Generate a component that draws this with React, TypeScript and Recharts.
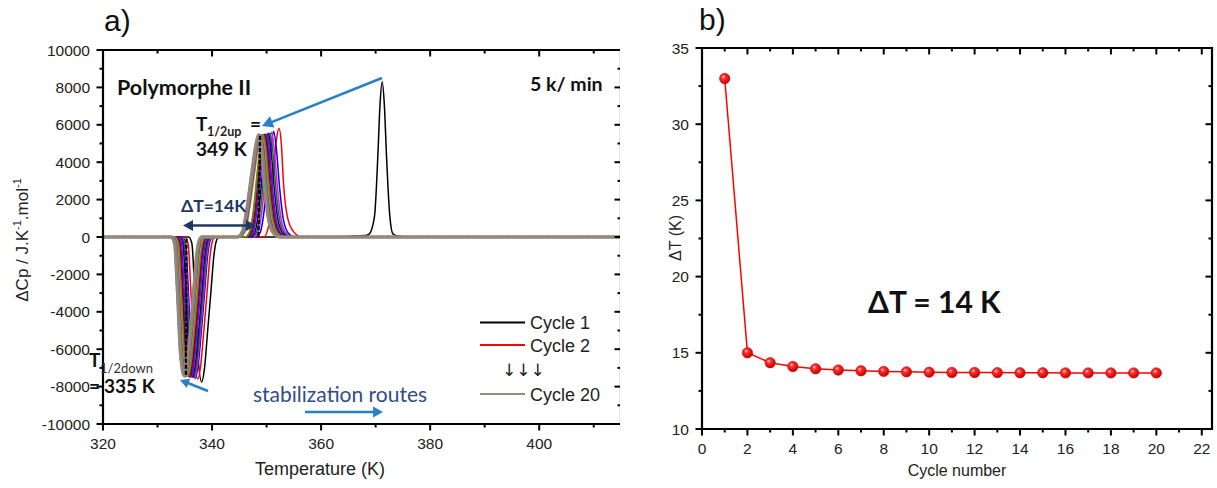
import React from 'react';
import { LineChart, Line, XAxis, YAxis, ReferenceLine } from 'recharts';

type P = [number, number];

// ---------- Panel a) : DSC curves (T in K, ΔCp in J.K-1.mol-1) ----------
const cycle1: P[] = [[320,0],[335.7,0],[336.3,-350],[336.8,-2800],[337.4,-6300],[338.1,-7750],[338.6,-7050],[339.2,-5000],[339.8,-2900],[340.3,-1100],[340.8,-200],[341.3,0],[364.0,0],[366.0,60],[368.2,80],[368.8,150],[369.8,1120],[370.4,4300],[370.8,7050],[371.2,8300],[371.6,7050],[372.0,4300],[372.6,1120],[373.2,150],[374.2,40],[376.0,0],[415,0]];
const cycle2: P[] = [[320,0],[335.0,0],[335.6,-350],[336.1,-2800],[336.7,-6300],[337.4,-7600],[337.9,-6900],[338.5,-5000],[339.1,-2900],[339.6,-1100],[340.1,-200],[340.6,0],[349.5,0],[350.3,500],[351.1,2900],[351.8,5200],[352.3,5800],[352.7,5000],[353.1,2900],[353.8,1100],[354.9,300],[356.5,0],[415,0]];
const cycle3: P[] = [[320,0],[334.55,0],[335.15,-350],[335.65,-2800],[336.25,-6300],[336.95,-7550],[337.45,-6850],[338.05,-5000],[338.65,-2900],[339.15,-1100],[339.65,-200],[340.15,0],[348.1,0],[348.9,300],[349.6,1500],[350.25,3400],[350.85,4900],[351.3,5650],[351.8,4700],[352.4,2600],[353.1,900],[354.0,200],[355.1,0],[415,0]];
const cycle4: P[] = [[320,0],[334.4,0],[335.0,-350],[335.5,-2800],[336.1,-6300],[336.8,-7550],[337.3,-6850],[337.9,-5000],[338.5,-2900],[339.0,-1100],[339.5,-200],[340.0,0],[347.7,0],[348.5,300],[349.2,1500],[349.85,3400],[350.45,4900],[350.9,5600],[351.4,4700],[352.0,2600],[352.7,900],[353.6,200],[354.7,0],[415,0]];
const cycle5: P[] = [[320,0],[334.25,0],[334.85,-350],[335.35,-2800],[335.95,-6300],[336.65,-7500],[337.15,-6800],[337.75,-5000],[338.35,-2900],[338.85,-1100],[339.35,-200],[339.85,0],[347.4,0],[348.2,300],[348.9,1500],[349.55,3400],[350.15,4900],[350.6,5550],[351.1,4700],[351.7,2600],[352.4,900],[353.3,200],[354.4,0],[415,0]];
const cycle6: P[] = [[320,0],[334.05,0],[334.65,-350],[335.15,-2800],[335.75,-6300],[336.45,-7500],[336.95,-6800],[337.55,-5000],[338.15,-2900],[338.65,-1100],[339.15,-200],[339.65,0],[347.1,0],[347.9,300],[348.6,1500],[349.25,3400],[349.85,4900],[350.3,5550],[350.8,4700],[351.4,2600],[352.1,900],[353.0,200],[354.1,0],[415,0]];
const cycle7: P[] = [[320,0],[333.8,0],[334.4,-350],[334.9,-2800],[335.5,-6300],[336.2,-7500],[336.7,-6800],[337.3,-5000],[337.9,-2900],[338.4,-1100],[338.9,-200],[339.4,0],[346.8,0],[347.6,300],[348.3,1500],[348.95,3400],[349.55,4900],[350.0,5500],[350.5,4700],[351.1,2600],[351.8,900],[352.7,200],[353.8,0],[415,0]];
const cycle8: P[] = [[320,0],[333.6,0],[334.2,-350],[334.7,-2800],[335.3,-6300],[336.0,-7480],[336.5,-6780],[337.1,-5000],[337.7,-2900],[338.2,-1100],[338.7,-200],[339.2,0],[346.6,0],[347.4,300],[348.1,1500],[348.75,3400],[349.35,4900],[349.8,5500],[350.3,4700],[350.9,2600],[351.6,900],[352.5,200],[353.6,0],[415,0]];
const cycle9: P[] = [[320,0],[333.45,0],[334.05,-350],[334.55,-2800],[335.15,-6300],[335.85,-7480],[336.35,-6780],[336.95,-5000],[337.55,-2900],[338.05,-1100],[338.55,-200],[339.05,0],[346.4,0],[347.2,300],[347.9,1500],[348.55,3400],[349.15,4900],[349.6,5500],[350.1,4700],[350.7,2600],[351.4,900],[352.3,200],[353.4,0],[415,0]];
const cycle10: P[] = [[320,0],[333.25,0],[333.85,-350],[334.35,-2800],[334.95,-6300],[335.65,-7460],[336.15,-6760],[336.75,-5000],[337.35,-2900],[337.85,-1100],[338.35,-200],[338.85,0],[346.2,0],[347.0,300],[347.7,1500],[348.35,3400],[348.95,4900],[349.4,5480],[349.9,4700],[350.5,2600],[351.2,900],[352.1,200],[353.2,0],[415,0]];
const cycle11: P[] = [[320,0],[333.2,0],[333.8,-350],[334.3,-2800],[334.9,-6300],[335.6,-7460],[336.1,-6760],[336.7,-5000],[337.3,-2900],[337.8,-1100],[338.3,-200],[338.8,0],[346.1,0],[346.9,300],[347.6,1500],[348.25,3400],[348.85,4900],[349.3,5480],[349.8,4700],[350.4,2600],[351.1,900],[352.0,200],[353.1,0],[415,0]];
const cycle12: P[] = [[320,0],[333.0,0],[333.6,-350],[334.1,-2800],[334.7,-6300],[335.4,-7450],[335.9,-6750],[336.5,-5000],[337.1,-2900],[337.6,-1100],[338.1,-200],[338.6,0],[345.1,0],[346.1,300],[346.9,1500],[347.8,3400],[348.55,4900],[349.1,5480],[349.6,4700],[350.2,2600],[350.9,900],[351.8,200],[352.9,0],[415,0]];
const cycle13: P[] = [[320,0],[332.9,0],[333.5,-350],[334.0,-2800],[334.6,-6300],[335.3,-7450],[335.8,-6750],[336.4,-5000],[337.0,-2900],[337.5,-1100],[338.0,-200],[338.5,0],[345.0,0],[346.0,300],[346.8,1500],[347.7,3400],[348.45,4900],[349.0,5460],[349.5,4700],[350.1,2600],[350.8,900],[351.7,200],[352.8,0],[415,0]];
const cycle14: P[] = [[320,0],[332.8,0],[333.4,-350],[333.9,-2800],[334.5,-6300],[335.2,-7440],[335.7,-6740],[336.3,-5000],[336.9,-2900],[337.4,-1100],[337.9,-200],[338.4,0],[344.9,0],[345.9,300],[346.7,1500],[347.6,3400],[348.35,4900],[348.9,5460],[349.4,4700],[350.0,2600],[350.7,900],[351.6,200],[352.7,0],[415,0]];
const cycle15: P[] = [[320,0],[332.7,0],[333.3,-350],[333.8,-2800],[334.4,-6300],[335.1,-7440],[335.6,-6740],[336.2,-5000],[336.8,-2900],[337.3,-1100],[337.8,-200],[338.3,0],[344.8,0],[345.8,300],[346.6,1500],[347.5,3400],[348.25,4900],[348.8,5460],[349.3,4700],[349.9,2600],[350.6,900],[351.5,200],[352.6,0],[415,0]];
const cycle16: P[] = [[320,0],[332.65,0],[333.25,-350],[333.75,-2800],[334.35,-6300],[335.05,-7430],[335.55,-6730],[336.15,-5000],[336.75,-2900],[337.25,-1100],[337.75,-200],[338.25,0],[344.7,0],[345.7,300],[346.5,1500],[347.4,3400],[348.15,4900],[348.7,5450],[349.2,4700],[349.8,2600],[350.5,900],[351.4,200],[352.5,0],[415,0]];
const cycle17: P[] = [[320,0],[332.6,0],[333.2,-350],[333.7,-2800],[334.3,-6300],[335.0,-7430],[335.5,-6730],[336.1,-5000],[336.7,-2900],[337.2,-1100],[337.7,-200],[338.2,0],[344.65,0],[345.65,300],[346.45,1500],[347.35,3400],[348.1,4900],[348.65,5450],[349.15,4700],[349.75,2600],[350.45,900],[351.35,200],[352.45,0],[415,0]];
const cycle18: P[] = [[320,0],[332.55,0],[333.15,-350],[333.65,-2800],[334.25,-6300],[334.95,-7430],[335.45,-6730],[336.05,-5000],[336.65,-2900],[337.15,-1100],[337.65,-200],[338.15,0],[344.6,0],[345.6,300],[346.4,1500],[347.3,3400],[348.05,4900],[348.6,5450],[349.1,4700],[349.7,2600],[350.4,900],[351.3,200],[352.4,0],[415,0]];
const cycle19: P[] = [[320,0],[332.5,0],[333.1,-350],[333.6,-2800],[334.2,-6300],[334.9,-7420],[335.4,-6720],[336.0,-5000],[336.6,-2900],[337.1,-1100],[337.6,-200],[338.1,0],[344.55,0],[345.55,300],[346.35,1500],[347.25,3400],[348.0,4900],[348.55,5440],[349.05,4700],[349.65,2600],[350.35,900],[351.25,200],[352.35,0],[415,0]];
const cycle20: P[] = [[320,0],[332.45,0],[333.05,-350],[333.55,-2800],[334.15,-6300],[334.85,-7420],[335.35,-6720],[335.95,-5000],[336.55,-2900],[337.05,-1100],[337.55,-200],[338.05,0],[344.5,0],[345.5,300],[346.3,1500],[347.2,3400],[347.95,4900],[348.5,5440],[349.0,4700],[349.6,2600],[350.3,900],[351.2,200],[352.3,0],[415,0]];

const cycleCurves: P[][] = [cycle1, cycle2, cycle3, cycle4, cycle5, cycle6, cycle7, cycle8, cycle9, cycle10, cycle11, cycle12, cycle13, cycle14, cycle15, cycle16, cycle17, cycle18, cycle19, cycle20];
const cycleColors = ['#000000', '#ff0000', '#0000ff', '#ff00ff', '#008000', '#000080', '#8000ff', '#800080', '#800000', '#008080', '#808000', '#ff8000', '#00c0c0', '#c000c0', '#6b8e23', '#4169e1', '#20b2aa', '#a87c66', '#2fa58a', '#928a85'];
const cycleWidths = [1.5, 1.5, 1.5, 1.5, 1.5, 1.5, 1.5, 1.5, 1.5, 1.5, 1.5, 1.5, 1.5, 2, 2, 2, 2, 3.5, 2.5, 1.5];
const cycleDash = ['', '', '', '', '', '', '', '', '', '', '', '', '', '', '', '', '', '', '2 3', ''];

const halfUpSegment = [{ x: 348.8, y: 5400 }, { x: 348.5, y: 0 }];
const halfDownSegment = [{ x: 335.3, y: -100 }, { x: 335.2, y: -7400 }];

const tempDomain: [number, number] = [320, 415];
const cpDomain: [number, number] = [-10000, 10000];
const tempTicks = [320, 330, 340, 350, 360, 370, 380, 390, 400, 410];
const tempMajor = [320, 340, 360, 380, 400];
const cpTicks = [-10000, -9000, -8000, -7000, -6000, -5000, -4000, -3000, -2000, -1000, 0, 1000, 2000, 3000, 4000, 5000, 6000, 7000, 8000, 9000, 10000];
const cpMajor = [-10000, -8000, -6000, -4000, -2000, 0, 2000, 4000, 6000, 8000, 10000];

// ---------- Panel b) : ΔT vs cycle ----------
const cycleNumbers = [1, 2, 3, 4, 5, 6, 7, 8, 9, 10, 11, 12, 13, 14, 15, 16, 17, 18, 19, 20];
const deltaT = [33.0, 15.0, 14.35, 14.1, 13.95, 13.87, 13.82, 13.78, 13.75, 13.73, 13.71, 13.71, 13.7, 13.69, 13.69, 13.68, 13.68, 13.68, 13.68, 13.68];
const cycDomain: [number, number] = [0, 22.45];
const dtDomain: [number, number] = [10, 35];
const cycTicks = [0, 1, 2, 3, 4, 5, 6, 7, 8, 9, 10, 11, 12, 13, 14, 15, 16, 17, 18, 19, 20, 21, 22];
const cycMajor = [0, 2, 4, 6, 8, 10, 12, 14, 16, 18, 20, 22];
const dtTicks = [10, 12.5, 15, 17.5, 20, 22.5, 25, 27.5, 30, 32.5, 35];
const dtMajor = [10, 15, 20, 25, 30, 35];

const panelB = cycleNumbers.map((c, i) => ({ c, dt: deltaT[i] }));

const AX = 'Liberation Sans, Arial, sans-serif';
const CAL = 'Lato, Carlito, sans-serif';

// plot-area geometry (px) : set by chart margins + axis sizes below
const A_BOX = { left: 103, top: 50, w: 518, h: 374 };
const B_BOX = { left: 702, top: 48, w: 510, h: 381 };

function labelTick(side: string, majors: number[]) {
  return (props: any) => {
    const x = Number(props.x);
    const y = Number(props.y);
    const v = props.payload.value;
    if (majors.indexOf(v) < 0) return <g />;
    if (side === 'bottom') return <text x={x} y={y + 25} textAnchor="middle" fontSize={15.5} fontFamily={AX} fill="#222">{v}</text>;
    return <text x={x - 13} y={y + 5.5} textAnchor="end" fontSize={15.5} fontFamily={AX} fill="#222">{v}</text>;
  };
}

// axis frame + tick marks (outward on left/bottom, inward on top/right)
const Frame = ({ box, xd, yd, xt, xm, yt, ym }: any) => {
  const sx = (v: number) => box.left + ((v - xd[0]) / (xd[1] - xd[0])) * box.w;
  const sy = (v: number) => box.top + box.h - ((v - yd[0]) / (yd[1] - yd[0])) * box.h;
  const bot = box.top + box.h;
  const right = box.left + box.w;
  const segs: any[] = [];
  segs.push(<line key="f1" x1={box.left - 1} y1={box.top} x2={right + 1} y2={box.top} stroke="#000000" strokeWidth={2.2} />);
  segs.push(<line key="f2" x1={box.left - 1} y1={bot} x2={right + 1} y2={bot} stroke="#000000" strokeWidth={2.2} />);
  segs.push(<line key="f3" x1={box.left} y1={box.top - 1} x2={box.left} y2={bot + 1} stroke="#000000" strokeWidth={2.2} />);
  segs.push(<line key="f4" x1={right} y1={box.top - 1} x2={right} y2={bot + 1} stroke="#000000" strokeWidth={2.2} />);
  xt.forEach((v: number) => {
    const L = xm.indexOf(v) >= 0 ? 6.5 : 3.5;
    const x = sx(v);
    segs.push(<line key={'xb' + v} x1={x} y1={bot} x2={x} y2={bot + L} stroke="#000000" strokeWidth={2} />);
    segs.push(<line key={'xt' + v} x1={x} y1={box.top} x2={x} y2={box.top + L} stroke="#000000" strokeWidth={2} />);
  });
  yt.forEach((v: number) => {
    const L = ym.indexOf(v) >= 0 ? 6.5 : 3.5;
    const y = sy(v);
    segs.push(<line key={'yl' + v} x1={box.left} y1={y} x2={box.left - L} y2={y} stroke="#000000" strokeWidth={2} />);
    segs.push(<line key={'yr' + v} x1={right} y1={y} x2={right - L} y2={y} stroke="#000000" strokeWidth={2} />);
  });
  return <>{segs}</>;
};

const Ball = (props: any) => {
  const { cx, cy, index } = props;
  if (cx == null || cy == null) return null;
  return <circle key={'b' + index} cx={cx} cy={cy} r={5.2} fill="url(#ballGrad)" stroke="#d00000" strokeWidth={0.6} />;
};

const Arrow = ({ x1, y1, x2, y2, color, w, head, both }: any) => {
  const ang = Math.atan2(y2 - y1, x2 - x1);
  const h = head || 9;
  const hw = h * 0.55;
  const tri = (px: number, py: number, a: number) => {
    const bx = px - h * Math.cos(a);
    const by = py - h * Math.sin(a);
    const nx = -Math.sin(a) * hw;
    const ny = Math.cos(a) * hw;
    return `${px},${py} ${bx + nx},${by + ny} ${bx - nx},${by - ny}`;
  };
  const sx = both ? x1 + (h - 2) * Math.cos(ang) : x1;
  const sy = both ? y1 + (h - 2) * Math.sin(ang) : y1;
  const ex = x2 - (h - 2) * Math.cos(ang);
  const ey = y2 - (h - 2) * Math.sin(ang);
  return (
    <g>
      <line x1={sx} y1={sy} x2={ex} y2={ey} stroke={color} strokeWidth={w} />
      <polygon points={tri(x2, y2, ang)} fill={color} />
      {both ? <polygon points={tri(x1, y1, ang + Math.PI)} fill={color} /> : null}
    </g>
  );
};

export default function App() {
  return (
    <div style={{ position: 'absolute', left: 0, top: 0, width: 1217, height: 488, background: '#fff', overflow: 'hidden' }}>
      <svg width={0} height={0} style={{ position: 'absolute' }}>
        <defs>
          <radialGradient id="ballGrad" cx="38%" cy="35%" r="65%">
            <stop offset="0%" stopColor="#ffd0d0" />
            <stop offset="30%" stopColor="#ff3030" />
            <stop offset="100%" stopColor="#c00000" />
          </radialGradient>
        </defs>
      </svg>

      {/* Panel a */}
      <div style={{ position: 'absolute', left: 0, top: 0, width: 620, height: 488, overflow: 'hidden' }}>
        <LineChart width={640} height={488} margin={{ top: 50, right: 19, bottom: 34, left: 43 }}>
          <XAxis xAxisId="b" type="number" dataKey="t" domain={tempDomain} allowDataOverflow ticks={tempTicks} interval={0}
            tickSize={0} tickMargin={0} height={30} axisLine={false} tickLine={false} tick={labelTick('bottom', tempMajor)} />
          <YAxis yAxisId="l" type="number" domain={cpDomain} allowDataOverflow ticks={cpTicks} interval={0}
            tickSize={0} tickMargin={0} width={60} axisLine={false} tickLine={false} tick={labelTick('left', cpMajor)} />
          {cycleCurves.map((curve, i) => (
            <Line key={'c' + i} xAxisId="b" yAxisId="l" data={curve.map(([t, v]) => ({ t, v }))} dataKey="v" type="monotoneX"
              stroke={cycleColors[i]} strokeWidth={cycleWidths[i]} strokeDasharray={cycleDash[i] || undefined}
              dot={false} activeDot={false} isAnimationActive={false} name={'Cycle ' + (i + 1)} />
          ))}
          <ReferenceLine xAxisId="b" yAxisId="l" segment={halfUpSegment} stroke="#000" strokeWidth={2.2} strokeDasharray="4 2" ifOverflow="visible" />
          <ReferenceLine xAxisId="b" yAxisId="l" segment={halfDownSegment} stroke="#000" strokeWidth={2.2} strokeDasharray="4 2" ifOverflow="visible" />
        </LineChart>
      </div>

      {/* Panel b */}
      <div style={{ position: 'absolute', left: 640, top: 0, width: 577, height: 488 }}>
        <LineChart width={577} height={488} data={panelB} margin={{ top: 48, right: 5, bottom: 29, left: 12 }}>
          <XAxis xAxisId="b" type="number" dataKey="c" domain={cycDomain} allowDataOverflow ticks={cycTicks} interval={0}
            tickSize={0} tickMargin={0} height={30} axisLine={false} tickLine={false} tick={labelTick('bottom', cycMajor)} />
          <YAxis yAxisId="l" type="number" domain={dtDomain} allowDataOverflow ticks={dtTicks} interval={0}
            tickSize={0} tickMargin={0} width={50} axisLine={false} tickLine={false} tick={labelTick('left', dtMajor)} />
          <Line xAxisId="b" yAxisId="l" dataKey="dt" type="linear" stroke="#ff0000" strokeWidth={1.5}
            dot={<Ball />} activeDot={false} isAnimationActive={false} />
        </LineChart>
      </div>

      {/* Frames, annotations */}
      <svg width={1217} height={488} style={{ position: 'absolute', left: 0, top: 0, pointerEvents: 'none' }}>
        <svg x={0} y={0} width={620} height={488} overflow="hidden">
          <Frame box={A_BOX} xd={tempDomain} yd={cpDomain} xt={tempTicks} xm={tempMajor} yt={cpTicks} ym={cpMajor} />
        </svg>
        <Frame box={B_BOX} xd={cycDomain} yd={dtDomain} xt={cycTicks} xm={cycMajor} yt={dtTicks} ym={dtMajor} />

        <text x={104} y={31} fontSize={30} fontFamily={AX} fill="#111">a)</text>
        <text x={699} y={30} fontSize={30} fontFamily={AX} fill="#111">b)</text>

        <text x={320} y={475} textAnchor="middle" fontSize={18} fontFamily={AX} fill="#222">Temperature (K)</text>
        <text transform="translate(28,240) rotate(-90)" textAnchor="middle" fontSize={17} fontFamily={AX} fill="#222">
          ΔCp / J.K<tspan fontSize={11} dy={-7}>-1</tspan><tspan dy={7}>.mol</tspan><tspan fontSize={11} dy={-7}>-1</tspan>
        </text>

        <text x={957} y={476} textAnchor="middle" fontSize={16} fontFamily={AX} fill="#222">Cycle number</text>
        <text transform="translate(681,238) rotate(-90)" textAnchor="middle" fontSize={16} fontFamily={AX} fill="#222">ΔT (K)</text>

        <text x={117} y={95} fontSize={21.5} fontWeight="bold" fontFamily={CAL} fill="#111">Polymorphe II</text>
        <text x={530} y={91} fontSize={19.5} fontWeight="bold" fontFamily={CAL} fill="#111">5 k/ min</text>

        <text x={196} y={131} fontSize={19} fontWeight="bold" fontFamily={CAL} fill="#111">T</text>
        <text x={207} y={136} fontSize={12.5} fontWeight="bold" fontFamily={CAL} fill="#222">1/2up</text>
        <text x={250} y={131} fontSize={19} fontWeight="bold" fontFamily={CAL} fill="#111">=</text>
        <text x={196} y={156} fontSize={19} fontWeight="bold" fontFamily={CAL} fill="#111">349 K</text>

        <text x={181} y={212} fontSize={17.5} fontWeight="bold" fontFamily={CAL} fill="#1f3864">ΔT=14K</text>
        <Arrow x1={183} y1={225.5} x2={256} y2={225.5} color="#1f3864" w={2.6} head={10} both />

        <Arrow x1={382} y1={78} x2={262} y2={126} color="#2a80c8" w={2.6} head={11} />

        <text x={89} y={367} fontSize={19} fontWeight="bold" fontFamily={CAL} fill="#111">T</text>
        <text x={100} y={373} fontSize={13} fontFamily={CAL} fill="#333">1/2down</text>
        <text x={89} y={393} fontSize={19} fontWeight="bold" fontFamily={CAL} fill="#111">=</text>
        <text x={104} y={393} fontSize={19} fontWeight="bold" fontFamily={CAL} fill="#111">335 K</text>
        <Arrow x1={208} y1={391} x2={180} y2={380} color="#2a80c8" w={2.6} head={9} />

        <text x={253} y={402} fontSize={21} fontFamily={CAL} fill="#2f4d8a">stabilization routes</text>
        <Arrow x1={305} y1={412} x2={383} y2={412} color="#2a80c8" w={2.6} head={10} />

        <line x1={480} y1={322.5} x2={525} y2={322.5} stroke={cycleColors[0]} strokeWidth={2} />
        <text x={530} y={329} fontSize={18} fontFamily={AX} fill="#222">Cycle 1</text>
        <line x1={480} y1={345} x2={525} y2={345} stroke={cycleColors[1]} strokeWidth={2} />
        <text x={530} y={352} fontSize={18} fontFamily={AX} fill="#222">Cycle 2</text>
        <text x={502} y={376} fontSize={17} fontFamily="DejaVu Sans, sans-serif" fill="#222">↓↓↓</text>
        <line x1={480} y1={394} x2={525} y2={394} stroke={cycleColors[19]} strokeWidth={2} />
        <text x={530} y={401} fontSize={18} fontFamily={AX} fill="#222">Cycle 20</text>

        <text x={868} y={313} fontSize={30} fontWeight="bold" fontFamily={CAL} fill="#111">ΔT = 14 K</text>
      </svg>
    </div>
  );
}
